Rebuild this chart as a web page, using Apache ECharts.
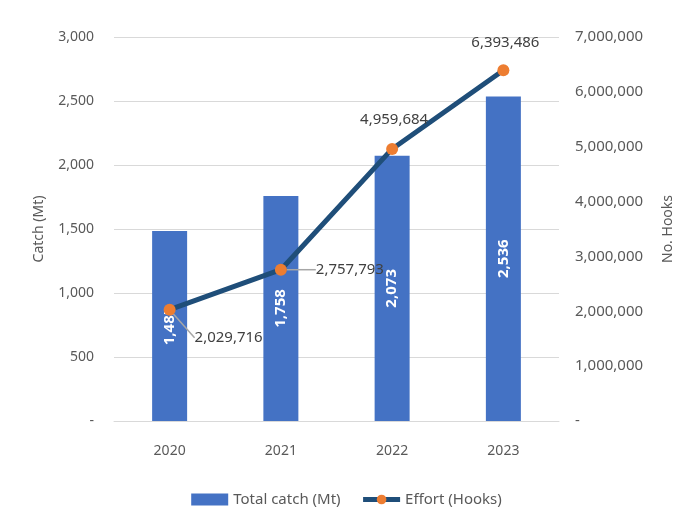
<!DOCTYPE html>
<html><head><meta charset="utf-8">
<script src="https://cdn.jsdelivr.net/npm/echarts@6/dist/echarts.min.js"></script>
<style>html,body{margin:0;padding:0;background:#fff}#c{width:693px;height:530px}</style>
</head><body><div id="c"></div>
<script>
var years = ['2020', '2021', '2022', '2023'];
var catchMt = [1485, 1758, 2073, 2536];
var effortHooks = [2029716, 2757793, 4959684, 6393486];
var seriesNames = ['Total catch (Mt)', 'Effort (Hooks)'];

function fmt(v) { return v === 0 ? '-' : v.toLocaleString('en-US'); }
var txt = '#595959';
var font = 'Noto Sans';

var lineLabelPos = [
  {dx: 59, dy: 28, line: true},
  {dx: 69, dy: 0, line: true},
  {dx: 2, dy: -29, line: false},
  {dx: 2, dy: -28, line: false}
];

var effortData = effortHooks.map(function (v, i) {
  return {value: v, labelLine: {show: lineLabelPos[i].line}};
});

var chart = echarts.init(document.getElementById('c'));
chart.setOption({
  animation: false,
  textStyle: {fontFamily: font},
  grid: {left: 114, right: 134, top: 37, bottom: 109},
  legend: {
    bottom: 18, left: 'center', itemGap: 20, itemWidth: 37, itemHeight: 12, itemGap: 20,
    textStyle: {color: txt, fontSize: 15},
    data: [
      {name: seriesNames[0], icon: 'rect'},
      {name: seriesNames[1], lineStyle: {width: 5}}
    ]
  },
  xAxis: {
    type: 'category', data: years,
    axisLine: {show: true, lineStyle: {color: '#d9d9d9'}},
    axisTick: {show: false},
    axisLabel: {color: txt, fontSize: 14, margin: 23}
  },
  yAxis: [{
    type: 'value', min: 0, max: 3000, interval: 500,
    name: 'Catch (Mt)', nameLocation: 'middle', nameGap: 68,
    nameTextStyle: {color: txt, fontSize: 14},
    axisLine: {show: false}, axisTick: {show: false},
    axisLabel: {color: txt, fontSize: 14, margin: 20, formatter: fmt},
    splitLine: {lineStyle: {color: '#d9d9d9'}}
  }, {
    type: 'value', min: 0, max: 7000000, interval: 1000000,
    name: 'No. Hooks', nameLocation: 'middle', nameGap: 102,
    nameTextStyle: {color: txt, fontSize: 14},
    axisLine: {show: false}, axisTick: {show: false},
    axisLabel: {color: txt, fontSize: 15, margin: 16, formatter: fmt},
    splitLine: {show: false}
  }],
  series: [{
    name: seriesNames[0], type: 'bar', data: catchMt, barWidth: 35,
    itemStyle: {color: '#4472C4'},
    label: {
      show: true, position: 'inside', rotate: 90, color: '#fff',
      fontWeight: 'bold', fontSize: 15, formatter: function (p) { return fmt(p.value); }
    }
  }, {
    name: seriesNames[1], type: 'line', yAxisIndex: 1, data: effortData,
    symbol: 'circle', symbolSize: 12,
    lineStyle: {color: '#1F4E79', width: 5},
    itemStyle: {color: '#ED7D31'},
    label: {
      show: true, position: 'inside', color: '#404040', fontSize: 15,
      formatter: function (p) { return fmt(p.value); }
    },
    labelLine: {show: true, lineStyle: {color: '#a6a6a6', width: 1.5}},
    labelLayout: function (params) {
      var o = lineLabelPos[params.dataIndex];
      return {dx: o.dx, dy: o.dy};
    },
    z: 5
  }]
});
</script></body></html>
